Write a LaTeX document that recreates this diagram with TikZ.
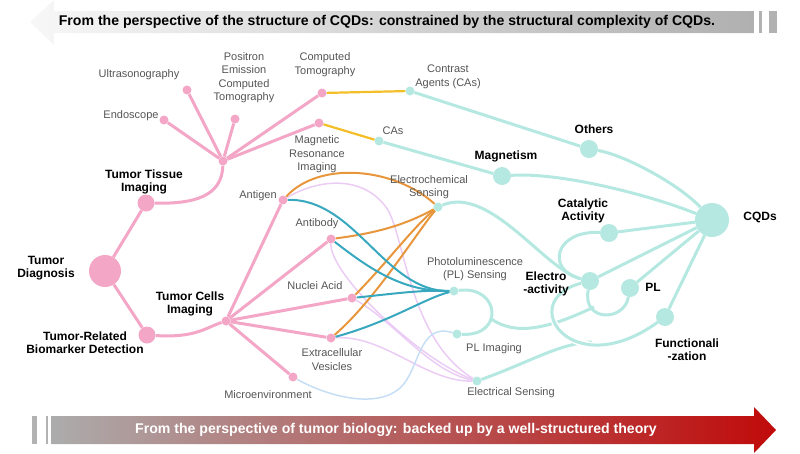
\documentclass[tikz,border=0pt]{standalone}
\usepackage{fontspec}
\setmainfont{Liberation Sans}
\usepackage{tikz}
\usetikzlibrary{calc,positioning,backgrounds}
\definecolor{pinkc}{RGB}{243,166,198}
\definecolor{mintc}{RGB}{181,232,224}
\definecolor{yelc}{RGB}{243,190,40}
\definecolor{orc}{RGB}{232,150,60}
\definecolor{tealc}{RGB}{56,168,190}
\definecolor{lavc}{RGB}{234,204,244}
\definecolor{bluec}{RGB}{198,222,245}
\definecolor{lblgray}{RGB}{85,85,85}
\definecolor{darkred}{RGB}{192,10,10}
\tikzset{
  pdot/.style={circle,fill=pinkc,inner sep=0pt,minimum size=9pt},
  pmid/.style={pdot,minimum size=17pt},
  pbig/.style={pdot,minimum size=32pt},
  mdot/.style={circle,fill=mintc,inner sep=0pt,minimum size=9pt},
  mmid/.style={mdot,minimum size=18pt},
  mbig/.style={mdot,minimum size=34pt},
  lbl/.style={font=\fontsize{11}{13.5}\selectfont,text=lblgray,align=center,inner sep=0pt},
  blbl/.style={font=\fontsize{12}{13}\selectfont\bfseries,align=center,inner sep=0pt},
  pinkline/.style={draw=pinkc,line width=3pt},
  mintline/.style={draw=mintc,line width=3pt},
  caline/.style={draw=yelc,line width=2.2pt},
  orline/.style={draw=orc,line width=2pt},
  tealline/.style={draw=tealc,line width=2pt},
  lavline/.style={draw=lavc,line width=1.5pt},
  blueline/.style={draw=bluec,line width=1.5pt},
  gapline/.style={preaction={draw=white,line width=6pt}}
}
\tikzstyle{bar} = [fill=gray!60]

\begin{document}
\begin{tikzpicture}[x=1pt,y=-1pt]
  \useasboundingbox (0,0) rectangle (800,453);
  % top and bottom arrows
  \shade[left color=gray!6,right color=gray!62]
    (30,22) -- (54,0) -- (54,11) -- (754,11) -- (754,33) -- (54,33) -- (54,45) -- cycle;
  \fill[bar] (759,11) rectangle (762,33);
  \fill[bar] (769,11) rectangle (777,33);
  \node[font=\fontsize{14.1}{16}\selectfont\bfseries] (toptext) at (387,22)
    {From the perspective of the structure of CQDs: constrained by the structural complexity of CQDs.};
  \shade[left color=gray!65,middle color=red!70!black!85,right color=darkred]
    (51,416) -- (754,416) -- (754,407) -- (776,430) -- (754,453) -- (754,444) -- (51,444) -- cycle;
  \fill[bar] (32,416) rectangle (37,444);
  \fill[bar] (46,416) rectangle (48,444);
  \node[font=\fontsize{14.1}{16}\selectfont\bfseries,text=white] (bottext) at (396,430)
    {From the perspective of tumor biology: backed up by a well-structured theory};

  \node[pbig] (diag) at (105,271) {};
  \node[pmid] (tissue) at (146,203) {};
  \node[pmid] (biomark) at (147,335) {};
  \node[pdot] (thub) at (223,161) {};
  \node[pdot] (ultra) at (187,90) {};
  \node[pdot] (endo) at (164,120) {};
  \node[pdot] (pet) at (235,119) {};
  \node[pdot] (ct) at (322,93) {};
  \node[pdot] (mri) at (319,123) {};
  \node[pdot] (chub) at (226,321) {};
  \node[pdot] (antigen) at (283,200) {};
  \node[pdot] (antibody) at (331,239) {};
  \node[pdot] (nuclei) at (352,298) {};
  \node[pdot] (vesicle) at (331,338) {};
  \node[pdot] (micro) at (293,377) {};

  \node[mdot] (ca) at (410,91) {};
  \node[mdot] (cas) at (379,141) {};
  \node[mdot] (echem) at (438,207) {};
  \node[mdot] (plsens) at (454,291) {};
  \node[mdot] (plimg) at (457,334) {};
  \node[mdot] (elsens) at (477,381) {};
  \node[mmid] (others) at (589,149) {};
  \node[mmid] (magnet) at (502,176) {};
  \node[mmid] (catal) at (609,233) {};
  \node[mmid] (electro) at (590,281) {};
  \node[mmid] (pl) at (630,288) {};
  \node[mmid] (func) at (665,317) {};
  \node[mbig] (cqds) at (712,220) {};
  \coordinate (jp) at (490,318);
  \coordinate (jq) at (594,307);
  \coordinate (jb) at (592,342);

  \node[lbl] (ultraL) at (139,75) {Ultrasonography};
  \node[lbl] (endoL) at (131,116) {Endoscope};
  \node[lbl] (petL) at (244,77.5) {Positron\\Emission\\Computed\\Tomography};
  \node[lbl] (ctL) at (325,64.5) {Computed\\Tomography};
  \node[lbl] (mriL) at (317,154.5) {Magnetic\\Resonance\\Imaging};
  \node[lbl] (caL) at (448,77) {Contrast\\Agents (CAs)};
  \node[lbl] (casL) at (393,131) {CAs};
  \node[lbl] (antigenL) at (258,196) {Antigen};
  \node[lbl] (antibodyL) at (317,224) {Antibody};
  \node[lbl] (nucleiL) at (315,286) {Nuclei Acid};
  \node[lbl] (vesicleL) at (332,359.5) {Extracellular\\Vesicles};
  \node[lbl] (microL) at (268,395) {Microenvironment};
  \node[lbl] (echemL) at (429,187) {Electrochemical\\Sensing};
  \node[lbl] (plsensL) at (475,269) {Photoluminescence\\(PL) Sensing};
  \node[lbl] (plimgL) at (494,349) {PL Imaging};
  \node[lbl] (elsensL) at (511,393) {Electrical Sensing};

  \node[blbl] (diagL) at (46,268.5) {Tumor\\Diagnosis};
  \node[blbl] (tissueL) at (144,181.5) {Tumor Tissue\\Imaging};
  \node[blbl] (cellsL) at (190,303.5) {Tumor Cells\\Imaging};
  \node[blbl] (biomarkL) at (85,342.5) {Tumor-Related\\Biomarker Detection};
  \node[blbl] (othersL) at (594,129) {Others};
  \node[blbl] (magnetL) at (506,156) {Magnetism};
  \node[blbl] (catalL) at (583,211) {Catalytic\\Activity};
  \node[blbl] (electroL) at (546,284) {Electro\\-activity};
  \node[blbl] (plL) at (653,287) {PL};
  \node[blbl] (funcL) at (687,350) {Functionali\\-zation};
  \node[blbl] (cqdsL) at (760,217) {CQDs};

  \begin{scope}[on background layer]
    \draw[pinkline] (diag) -- (tissue);
    \draw[pinkline] (diag) -- (biomark);
    \draw[pinkline] (tissue) .. controls (195,204) and (222,196) .. (thub);
    \foreach \t in {endo,ultra,pet,ct,mri}
      \draw[pinkline] (thub) -- (\t);
    \draw[pinkline] (biomark) .. controls (195,338) and (205,328) .. (chub);
    \foreach \t in {antigen,antibody,nuclei,vesicle,micro}
      \draw[pinkline] (chub) -- (\t);
    \draw[caline] (ct) -- (ca);
    \draw[caline] (mri) -- (cas);

    \draw[lavline] (antigen) .. controls (320,178) and (365,175) .. (388,210)
      .. controls (405,240) and (410,340) .. (elsens);
    \draw[lavline] (antibody) .. controls (330,275) and (420,360) .. (elsens);
    \draw[lavline] (nuclei) .. controls (395,322) and (430,372) .. (elsens);
    \draw[lavline] (vesicle) .. controls (385,335) and (425,382) .. (elsens);
    \draw[blueline] (micro) .. controls (325,395) and (375,410) .. (400,388)
      .. controls (420,370) and (418,322) .. (plimg);

    \draw[orline] (antigen) .. controls (320,160) and (395,168) .. (echem);
    \draw[orline] (antibody) .. controls (385,232) and (410,222) .. (echem);
    \draw[orline] (nuclei) .. controls (385,265) and (415,225) .. (echem);
    \draw[orline] (vesicle) .. controls (375,300) and (415,235) .. (echem);
    \draw[tealline] (antigen) .. controls (355,198) and (385,292) .. (plsens);
    \draw[tealline] (antibody) .. controls (365,265) and (400,292) .. (plsens);
    \draw[tealline] (nuclei) .. controls (400,293) and (420,290) .. (plsens);
    \draw[tealline] (vesicle) .. controls (390,322) and (425,298) .. (plsens);

    \draw[mintline] (ca) -- (others);
    \draw[mintline] (cas) -- (magnet);
    \draw[mintline] (others) .. controls (625,155) and (680,185) .. (cqds);
    \draw[mintline] (magnet) .. controls (560,172) and (650,195) .. (cqds);
    \foreach \t in {catal,electro,pl,func}
      \draw[mintline] (\t) -- (cqds);
    \draw[mintline] (catal) .. controls (555,230) and (545,270) .. (electro);
    \draw[mintline] (echem) .. controls (490,185) and (545,270) .. (electro);
    \draw[mintline] (plsens) .. controls (500,285) and (505,337) .. (plimg);
    \draw[mintline] (jp) .. controls (515,337) and (550,328) .. (jq);
    \draw[mintline] (electro) .. controls (582,322) and (624,322) .. (pl);
    \draw[mintline] (elsens) .. controls (530,362) and (560,343) .. (jb);
    \draw[mintline,gapline] (electro) .. controls (515,300) and (570,385) .. (func);
  \end{scope}
\end{tikzpicture}
\end{document}
